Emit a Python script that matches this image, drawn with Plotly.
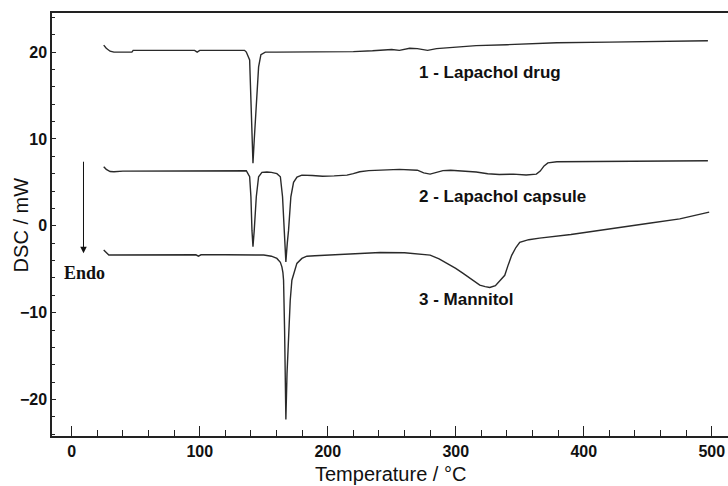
import plotly.graph_objects as go

# Temperature (°C) and DSC signal (mW)
T1 = [25, 27, 30, 33, 40, 47, 48, 60, 80, 96, 98, 100, 120, 135, 136.4, 139, 140, 141, 141.6, 142.6,
      144.2, 146, 147.8, 151.2, 160, 180, 200, 220, 235, 250, 256, 260, 264, 270, 278, 285, 300, 316,
      340, 360, 379, 420, 465, 497]
V1 = [20.8, 20.45, 20.1, 20.0, 20.0, 20.0, 20.2, 20.2, 20.2, 20.2, 20.0, 20.2, 20.2, 20.2, 20.0, 19.1,
      14.5, 9.9, 7.2, 9.9, 14.5, 18.3, 19.7, 20.0, 20.0, 20.0, 20.0, 20.05, 20.15, 20.3, 20.2, 20.35,
      20.44, 20.4, 20.2, 20.4, 20.55, 20.74, 20.85, 20.95, 21.08, 21.15, 21.24, 21.3]

T2 = [25, 27, 30, 33, 40, 70, 100, 130, 136.4, 139, 140, 140.8, 141.6, 142.6, 144.2, 146, 148.6, 152.5,
      156, 160.3, 163, 164.7, 165.8, 167.3, 168.4, 169.4, 171.2, 173.3, 176, 179.8, 188, 196, 205, 215,
      220, 225, 232, 240, 256, 270, 275, 280, 284, 290, 296, 305, 316, 325, 334, 345, 355, 363, 366,
      369, 372, 379, 420, 465, 497]
V2 = [6.8, 6.5, 6.25, 6.22, 6.3, 6.32, 6.35, 6.34, 6.34, 5.65, 3.34, -0.5, -2.42, -0.5, 3.34, 5.65, 6.15,
      6.2, 6.15, 6.0, 5.65, 3.34, -0.5, -4.15, -2.0, -0.5, 3.34, 5.0, 5.6, 5.84, 5.8, 5.7, 5.75, 5.84,
      6.0, 6.22, 6.35, 6.42, 6.5, 6.4, 6.1, 5.95, 6.1, 6.35, 6.4, 6.3, 6.2, 6.0, 5.9, 5.95, 5.85, 5.95,
      6.3, 6.9, 7.25, 7.37, 7.4, 7.42, 7.49]

T3 = [25, 27, 29, 32, 40, 60, 80, 97, 99, 101, 120, 140, 150, 156, 160.3, 163, 164.2, 165, 165.5, 166.3,
      167.3, 168.2, 169.4, 170.7, 172, 174, 175.9, 179.8, 183.7, 190, 202, 220, 241, 260, 280, 287, 293,
      300, 305.5, 312, 318.8, 323, 326.6, 331, 335, 338.3, 341, 343.7, 347, 350, 357, 365.5, 390, 412,
      451, 475, 498]
V3 = [-2.8, -3.1, -3.37, -3.37, -3.37, -3.37, -3.34, -3.34, -3.5, -3.34, -3.34, -3.37, -3.37, -3.5,
      -3.76, -4.2, -4.72, -5.4, -6.26, -12, -22.3, -17, -12, -8.6, -6.26, -5.1, -4.33, -3.76, -3.5,
      -3.45, -3.37, -3.2, -3.07, -3.1, -3.37, -3.8, -4.3, -4.9, -5.45, -6.1, -6.83, -7.0, -7.1, -6.9,
      -6.3, -5.7, -4.5, -3.4, -2.5, -1.9, -1.6, -1.42, -1.0, -0.5, 0.3, 0.8, 1.58]

labels = ["1 - Lapachol drug", "2 - Lapachol capsule", "3 - Mannitol"]
label_T = [270, 270, 270]
label_V = [17.7, 3.4, -8.45]

x_ticks = [0, 100, 200, 300, 400, 500]
y_ticks = [-20, -10, 0, 10, 20]

LINE = "#2a2a2a"
BOLDF = "Liberation Sans, Arial, sans-serif"

fig = go.Figure()
for T, V in [(T1, V1), (T2, V2), (T3, V3)]:
    fig.add_trace(go.Scatter(x=T, y=V, mode="lines",
                             line=dict(color=LINE, width=1.4), showlegend=False,
                             hoverinfo="skip"))

for txt, tx, ty in zip(labels, label_T, label_V):
    fig.add_annotation(x=tx, y=ty, text="<b>" + txt + "</b>", showarrow=False,
                       xanchor="left", yanchor="middle",
                       font=dict(family=BOLDF, size=17, color="#111"))

# Endo arrow
fig.add_annotation(x=9.2, y=-3.15, ax=9.2, ay=7.55, xref="x", yref="y", axref="x", ayref="y",
                   text="", showarrow=True, arrowhead=2, arrowsize=1.3, arrowwidth=1,
                   arrowcolor="#111")
fig.add_annotation(x=10, y=-5.4, text="<b>Endo</b>", showarrow=False,
                   xanchor="center", yanchor="middle",
                   font=dict(family="Liberation Serif, Times New Roman, serif", size=18, color="#111"))

# axis titles
fig.add_annotation(xref="paper", yref="paper", x=-0.046, y=0.5, text="DSC / mW",
                   textangle=-90, showarrow=False, xanchor="center", yanchor="middle",
                   font=dict(family="Liberation Sans, Arial, sans-serif", size=20, color="#111"))
fig.add_annotation(xref="paper", yref="paper", x=0.5, y=-0.09, text="Temperature / °C",
                   showarrow=False, xanchor="center", yanchor="middle",
                   font=dict(family="Liberation Sans, Arial, sans-serif", size=20, color="#111"))

fig.update_layout(
    width=728, height=486,
    margin=dict(l=52, r=0, t=13, b=50),
    paper_bgcolor="white", plot_bgcolor="white",
    xaxis=dict(range=[-15.4, 512.7], tickvals=x_ticks, ticktext=[str(v) for v in x_ticks],
               showgrid=False, zeroline=False, showline=True, linecolor="#222", linewidth=1.5,
               mirror=True, ticks="inside", ticklen=10, tickwidth=1.3, tickcolor="#222",
               minor=dict(dtick=20, tick0=0, ticks="inside", ticklen=6, tickwidth=1.2, tickcolor="#222"),
               tickfont=dict(family=BOLDF, size=16, color="#111", weight="bold")),
    yaxis=dict(range=[-24.2, 24.5], tickvals=y_ticks, ticktext=["\u221220", "\u221210", "0", "10", "20"],
               showgrid=False, zeroline=False, showline=True, linecolor="#222", linewidth=1.5,
               ticks="inside", ticklen=4, tickwidth=1.3, tickcolor="#222",
               minor=dict(dtick=2, tick0=0, ticks="inside", ticklen=3, tickwidth=1, tickcolor="#222"),
               tickfont=dict(family=BOLDF, size=16, color="#111", weight="bold")),
)

fig.write_html("out.html", config={"displayModeBar": False},
               post_script="document.body.style.margin='0';")
